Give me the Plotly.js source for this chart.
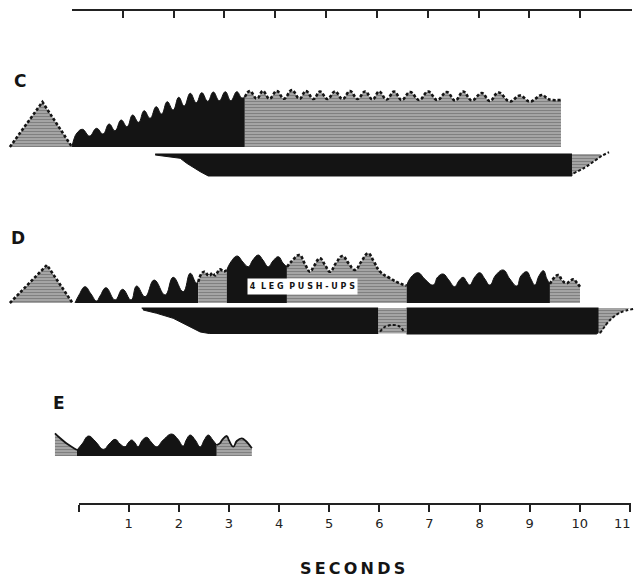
<!DOCTYPE html>
<html>
<head>
<meta charset="utf-8">
<script src="https://cdn.plot.ly/plotly-3.0.1.min.js"></script>
<style>html,body{margin:0;padding:0;background:#fff;}</style>
</head>
<body>
<div id="chart" style="width:634px;height:581px;"></div>
<script>
// ---------- DATA (time in seconds, amplitude in arbitrary units above each trace baseline) ----------
const TICK_VALUES = [0,1,2,3,4,5,6,7,8,9,10,11];
const TICK_LABELS = ['', '1','2','3','4','5','6','7','8','9','10','11'];
const PANEL_LABELS = ['C', 'D', 'E'];
const AXIS_TITLE = 'SECONDS';
const BOX_LABEL = '4  L E G  P U S H - U P S';

// Panel C
const C_TRI_T = [-1.38, -0.73, -0.14];
const C_TRI_A = [0, 45, 0];
const C_BLACK_T = [-0.14,-0.10,-0.04,0.07,0.21,0.35,0.48,0.60,0.72,0.84,0.96,1.07,1.19,1.30,1.42,1.54,1.65,1.76,1.88,1.99,2.10,2.22,2.34,2.45,2.57,2.68,2.80,2.92,3.03,3.15,3.25,3.31];
const C_BLACK_A = [0,8,14,17.7,11,18.7,13,23,16.3,27,20.3,32,24.7,36.3,28.7,40.3,33,45.3,37,49.7,41,53.7,44.3,54.3,45.7,55,46.3,55.3,46.3,55.3,49,50];
const C_GRAY_T = [3.31,3.41,3.55,3.67,3.80,3.95,4.09,4.25,4.40,4.53,4.68,4.81,4.96,5.11,5.26,5.41,5.56,5.71,5.86,5.99,6.14,6.29,6.44,6.61,6.79,6.97,7.15,7.34,7.51,7.67,7.84,8.04,8.20,8.37,8.60,8.80,9.00,9.24,9.36,9.44,9.62];
const C_GRAY_A = [50,56,48.3,56,48.3,56,48.3,57,48.3,56,48,55.5,48,55.5,48,56,48,55.5,47.5,55.5,47.5,55.5,47,55,47,55.5,47,55,46.5,55.5,46.5,54,46,54.5,45.5,51.5,45.5,52,48,47,47];
const C_LOW_T = [1.52, 9.84, 9.84, 2.58, 2.42, 2.15, 2.02, 1.52];
const C_LOW_A = [-7, -7, -29, -29, -24.7, -16.3, -11.3, -8];
const C_WEDGE_T = [9.84, 10.40, 10.44, 10.27, 10.07, 9.87, 9.84];
const C_WEDGE_A = [-7, -7, -8.7, -14.7, -21.3, -26.3, -29];
const C_WEDGE_EDGE_T = [9.87, 10.07, 10.27, 10.44, 10.58];
const C_WEDGE_EDGE_A = [-26.3, -21.3, -14.7, -8.7, -5.3];

// Panel D
const D_TRI_T = [-1.38, -0.64, -0.13];
const D_TRI_A = [0, 38, 0];
const D_BLACK1_T = [-0.08,0.00,0.12,0.24,0.35,0.42,0.54,0.72,0.87,1.04,1.15,1.32,1.50,1.72,1.88,2.08,2.22,2.34,2.38];
const D_BLACK1_A = [0,8,16.3,9,2,7,15.3,3,13.7,3,17,6.3,23,8,25.7,11.3,29.7,20,21];
const D_GRAY1_T = [2.38,2.44,2.50,2.60,2.66,2.72,2.81,2.89,2.95];
const D_GRAY1_A = [21,29,31.3,27,30,27.5,33.7,31.5,33];
const D_BLACK2_T = [2.95,3.03,3.16,3.27,3.38,3.47,3.58,3.67,3.78,3.87,3.98,4.07,4.15];
const D_BLACK2_A = [33,41,47,41,36.3,43,48,43,36.3,42,46.3,40,36];
const D_GRAY2_T = [4.15,4.25,4.40,4.51,4.61,4.69,4.81,4.91,5.01,5.13,5.26,5.39,5.51,5.63,5.77,5.89,6.01,6.21,6.41,6.54];
const D_GRAY2_A = [36,42,48,39,31.3,37,44.7,38,31.3,40,47,39,33,41,49.7,41,31.3,24.7,19.5,17.5];
const D_BLACK3_T = [6.54,6.63,6.77,6.90,7.07,7.16,7.27,7.38,7.50,7.58,7.67,7.74,7.80,7.90,8.00,8.10,8.20,8.32,8.47,8.60,8.74,8.82,8.94,9.02,9.10,9.18,9.27,9.34,9.40];
const D_BLACK3_A = [17.5,26,30.3,24,18,26,29,23,16.3,22,25.7,21,18,26,30.3,24,18,28,33,24,17,27,31.3,24,18,27,32.3,24,19];
const D_GRAY3_T = [9.40,9.48,9.57,9.64,9.73,9.80,9.87,9.94,10.00];
const D_GRAY3_A = [19,25,28,23,19.7,22,23.7,20,16.3];
const D_LOW1_T = [1.25,5.97,5.97,2.60,2.42,2.08,1.88,1.55,1.28];
const D_LOW1_A = [-5,-5,-30.5,-30.5,-29,-20.3,-15.3,-10.3,-7];
const D_LOWGRAY_T = [5.97,6.54,6.54,5.97];
const D_LOWGRAY_A = [-5,-5,-30.5,-30.5];
const D_BUMP_T = [6.01,6.10,6.24,6.38,6.48];
const D_BUMP_A = [-28.7,-24,-22,-23,-28];
const D_LOW2_T = [6.54,10.37,10.37,10.33,6.54];
const D_LOW2_A = [-5,-5,-29.5,-31,-31];
const D_WEDGE_T = [10.37,11.0,10.80,10.60,10.40,10.37];
const D_WEDGE_A = [-5,-5,-9.7,-17,-30.3,-31];
const D_WEDGE_EDGE_T = [10.40,10.60,10.80,11.06];
const D_WEDGE_EDGE_A = [-30.3,-17,-9.7,-6];

// Panel E
const E_GRAY1_T = [-0.48,-0.38,-0.26,-0.14,-0.04];
const E_GRAY1_A = [22.7,18,13,9,6];
const E_BLACK_T = [-0.04,0.06,0.19,0.32,0.49,0.60,0.72,0.82,0.92,0.98,1.05,1.12,1.18,1.26,1.35,1.44,1.55,1.68,1.85,1.97,2.08,2.14,2.22,2.32,2.42,2.50,2.58,2.67,2.75];
const E_BLACK_A = [6,12,20,15,6.7,12,16.7,12,9.3,13,16,13,9.3,15.5,18.7,14,9.3,16,22,17,10,16,21,16,9.3,16,21,16,11];
const E_GRAY2_T = [2.75,2.81,2.87,2.95,2.99,3.08,3.15,3.25,3.33,3.45];
const E_GRAY2_A = [11,12.7,17,20,16,9.3,15,17.7,15,7.7];

// ---------- STYLE ----------
const INK = '#141414';
const GRAY_BG = '#a9a9a9';
const PATTERN = {shape:'-', size:3, solidity:0.4, fgcolor:'#555555', bgcolor:GRAY_BG, fillmode:'overlay'};
const DOTTED = {color:INK, width:2.6, dash:'3px,2px'};
const TICK_FONT = {family:'DejaVu Sans', size:13, color:'#222'};

function blackArea(t, a, ya) {
  return {x:t, y:a, yaxis:ya, type:'scatter', mode:'lines', fill:'tozeroy',
    fillcolor:INK, line:{color:INK, width:1, shape:'spline', smoothing:1.3},
    hoverinfo:'skip', showlegend:false};
}
function grayArea(t, a, ya, line, shape) {
  return {x:t, y:a, yaxis:ya, type:'scatter', mode:'lines', fill:'tozeroy',
    fillpattern:PATTERN, fillcolor:GRAY_BG,
    line:Object.assign({shape:shape||'spline', smoothing:1.2}, line),
    hoverinfo:'skip', showlegend:false};
}
function polyBlack(t, a, ya) {
  return {x:t, y:a, yaxis:ya, type:'scatter', mode:'lines', fill:'toself',
    fillcolor:INK, line:{color:INK, width:1}, hoverinfo:'skip', showlegend:false};
}
function polyGray(t, a, ya) {
  return {x:t, y:a, yaxis:ya, type:'scatter', mode:'lines', fill:'toself',
    fillpattern:PATTERN, fillcolor:GRAY_BG, line:{color:'rgba(0,0,0,0)', width:0},
    hoverinfo:'skip', showlegend:false};
}
function edge(t, a, ya, line) {
  return {x:t, y:a, yaxis:ya, type:'scatter', mode:'lines',
    line:Object.assign({shape:'spline', smoothing:1}, line), hoverinfo:'skip', showlegend:false};
}

const traces = [
  // Panel C
  grayArea(C_TRI_T, C_TRI_A, 'y', DOTTED, 'linear'),
  blackArea(C_BLACK_T, C_BLACK_A, 'y'),
  grayArea(C_GRAY_T, C_GRAY_A, 'y', DOTTED),
  polyBlack(C_LOW_T, C_LOW_A, 'y'),
  polyGray(C_WEDGE_T, C_WEDGE_A, 'y'),
  edge(C_WEDGE_EDGE_T, C_WEDGE_EDGE_A, 'y', {color:INK, width:2, dash:'3px,2px'}),
  // Panel D
  grayArea(D_TRI_T, D_TRI_A, 'y2', DOTTED, 'linear'),
  blackArea(D_BLACK1_T, D_BLACK1_A, 'y2'),
  grayArea(D_GRAY1_T, D_GRAY1_A, 'y2', DOTTED),
  blackArea(D_BLACK2_T, D_BLACK2_A, 'y2'),
  grayArea(D_GRAY2_T, D_GRAY2_A, 'y2', DOTTED),
  blackArea(D_BLACK3_T, D_BLACK3_A, 'y2'),
  grayArea(D_GRAY3_T, D_GRAY3_A, 'y2', DOTTED),
  polyBlack(D_LOW1_T, D_LOW1_A, 'y2'),
  polyGray(D_LOWGRAY_T, D_LOWGRAY_A, 'y2'),
  edge(D_BUMP_T, D_BUMP_A, 'y2', {color:INK, width:2, dash:'3px,2px'}),
  polyBlack(D_LOW2_T, D_LOW2_A, 'y2'),
  polyGray(D_WEDGE_T, D_WEDGE_A, 'y2'),
  edge(D_WEDGE_EDGE_T, D_WEDGE_EDGE_A, 'y2', {color:INK, width:2, dash:'3px,2px'}),
  // Panel E
  grayArea(E_GRAY1_T, E_GRAY1_A, 'y3', {color:INK, width:1.8}),
  blackArea(E_BLACK_T, E_BLACK_A, 'y3'),
  grayArea(E_GRAY2_T, E_GRAY2_A, 'y3', {color:INK, width:1.8}),
  // anchors for the two time scales
  {x:[0], y:[0], xaxis:'x2', yaxis:'y', mode:'markers', marker:{opacity:0}, hoverinfo:'skip', showlegend:false},
  {x:[0], y:[0], xaxis:'x3', yaxis:'y', mode:'markers', marker:{opacity:0}, hoverinfo:'skip', showlegend:false}
];

const H = 581, W = 634;
const labelFont = {family:'DejaVu Sans', size:17, color:INK, weight:'bold'};
const LAST = TICK_LABELS.length - 1;

function paperLabel(text, px, py, font, xanchor) {
  return {text:text, xref:'paper', yref:'paper', x:px/W, y:(H-py)/H,
    xanchor:xanchor||'center', yanchor:'middle', showarrow:false, font:font};
}

const layout = {
  width:W, height:H,
  margin:{l:0, r:0, t:0, b:0},
  paper_bgcolor:'#ffffff', plot_bgcolor:'rgba(0,0,0,0)',
  showlegend:false,
  xaxis:{domain:[0,1], range:[-1.577, 11.078], visible:false, fixedrange:true},
  yaxis:{domain:[0.6644, 0.9053], range:[-48, 92], visible:false, fixedrange:true},
  yaxis2:{domain:[0.3976, 0.6127], range:[-47, 78], visible:false, fixedrange:true},
  yaxis3:{domain:[0.1824, 0.3115], range:[-19, 56], visible:false, fixedrange:true},
  xaxis2:{domain:[78.5/W, 630.5/W], range:[0, 11.01], anchor:'free', position:(H-504)/H, side:'bottom',
    showline:true, linewidth:2, linecolor:'#222', ticks:'outside', ticklen:7, tickwidth:2, tickcolor:'#222',
    tickvals:TICK_VALUES,
    // the last label sits at the page edge, so it is drawn as an annotation further below
    ticktext:TICK_LABELS.slice(0, LAST).concat(['']),
    tickfont:TICK_FONT, showgrid:false, zeroline:false, fixedrange:true},
  xaxis3:{domain:[72/W, 631.5/W], range:[0, 11.01], anchor:'free', position:(H-10)/H, side:'top',
    showline:true, linewidth:2, linecolor:'#222', ticks:'inside', ticklen:7, tickwidth:2, tickcolor:'#222',
    tickvals:TICK_VALUES, showticklabels:false, showgrid:false, zeroline:false, fixedrange:true},
  annotations:[
    paperLabel(PANEL_LABELS[0], 20, 81, labelFont),
    paperLabel(PANEL_LABELS[1], 18, 238, labelFont),
    paperLabel(PANEL_LABELS[2], 59, 403, labelFont),
    paperLabel(TICK_LABELS[LAST], 633, 523, TICK_FONT, 'right'),
    paperLabel(AXIS_TITLE.split('').join('\u2009'), 352, 568,
      {family:'DejaVu Sans', size:16, color:INK, weight:'bold'}),
    {text:BOX_LABEL, xref:'x', yref:'y2', x:4.46, y:16.5, showarrow:false, bgcolor:'#ffffff',
      width:109, height:15, borderpad:0, font:{family:'DejaVu Sans', size:8, color:INK, weight:'bold'}}
  ]
};

Plotly.newPlot('chart', traces, layout, {staticPlot:true, displayModeBar:false});
</script>
</body>
</html>
